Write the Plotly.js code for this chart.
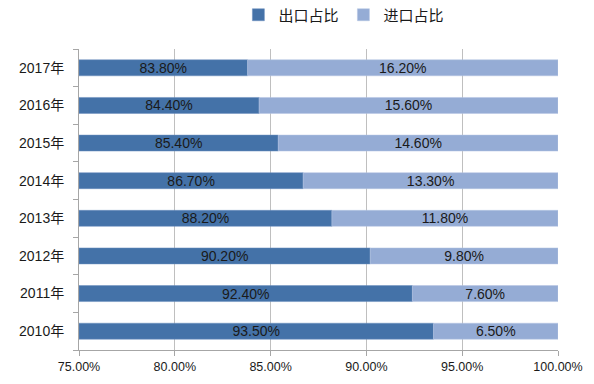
<!DOCTYPE html>
<html><head><meta charset="utf-8">
<script src="https://cdn.plot.ly/plotly-3.0.1.min.js"></script>
<style>html,body{margin:0;padding:0;background:#fff}#c{width:594px;height:384px}</style>
</head><body><div id="c"></div>
<script>
const years = ["2010年","2011年","2012年","2013年","2014年","2015年","2016年","2017年"];
const exportShare = [93.5, 92.4, 90.2, 88.2, 86.7, 85.4, 84.4, 83.8];
const importShare = [6.5, 7.6, 9.8, 11.8, 13.3, 14.6, 15.6, 16.2];
const axisMin = 75;
const xTicks = [75, 80, 85, 90, 95, 100];

const font = "Liberation Sans, Noto Sans CJK SC, sans-serif";
const traces = [
  {
    type: "bar", orientation: "h", name: "出口占比",
    y: years,
    base: exportShare.map(() => axisMin / 100),
    x: exportShare.map(v => (v - axisMin) / 100),
    text: exportShare.map(v => v.toFixed(2) + "%"),
    textposition: "inside", insidetextanchor: "middle",
    textfont: {family: font, size: 14, color: "#1a1a1a"},
    marker: {color: "#4472a8", line: {color: "#6b8fbf", width: 0.5}},
    hoverinfo: "skip"
  },
  {
    type: "bar", orientation: "h", name: "进口占比",
    y: years,
    base: exportShare.map(v => v / 100),
    x: importShare.map(v => v / 100),
    text: importShare.map(v => v.toFixed(2) + "%"),
    textposition: "inside", insidetextanchor: "middle",
    textfont: {family: font, size: 14, color: "#1a1a1a"},
    marker: {color: "#95acd5", line: {color: "#b4c5e3", width: 0.5}},
    hoverinfo: "skip"
  }
];

const layout = {
  width: 594, height: 384,
  margin: {l: 79, r: 36, t: 49, b: 34, autoexpand: false},
  paper_bgcolor: "#fff", plot_bgcolor: "#fff",
  barmode: "overlay", bargap: 0.575,
  uniformtext: {minsize: 14, mode: "show"},
  showlegend: true,
  legend: {orientation: "h", x: 0.553, xanchor: "center", y: 1.113, yanchor: "middle",
           font: {family: font, size: 15, color: "#1a1a1a"}, traceorder: "normal",
           itemwidth: 30, tracegroupgap: 0},
  xaxis: {
    range: [axisMin / 100, 1.0],
    tickvals: xTicks.map(v => v / 100),
    ticktext: xTicks.map(v => v.toFixed(2) + "%"),
    showgrid: true, gridcolor: "#bfbfbf", gridwidth: 1,
    zeroline: false,
    showline: true, linecolor: "#a6a6a6", linewidth: 1,
    ticks: "outside", ticklen: 5, tickcolor: "#a6a6a6",
    tickfont: {family: font, size: 12.5, color: "#1a1a1a"}
  },
  yaxis: {
    type: "category",
    showgrid: false, zeroline: false,
    showline: true, linecolor: "#a6a6a6", linewidth: 1,
    ticks: "outside", ticklen: 5, tickcolor: "#a6a6a6", tickson: "boundaries",
    tickfont: {family: font, size: 14, color: "#1a1a1a"},
    ticklabelstandoff: 11
  }
};
Plotly.newPlot("c", traces, layout, {displayModeBar: false, staticPlot: true});
</script></body></html>
